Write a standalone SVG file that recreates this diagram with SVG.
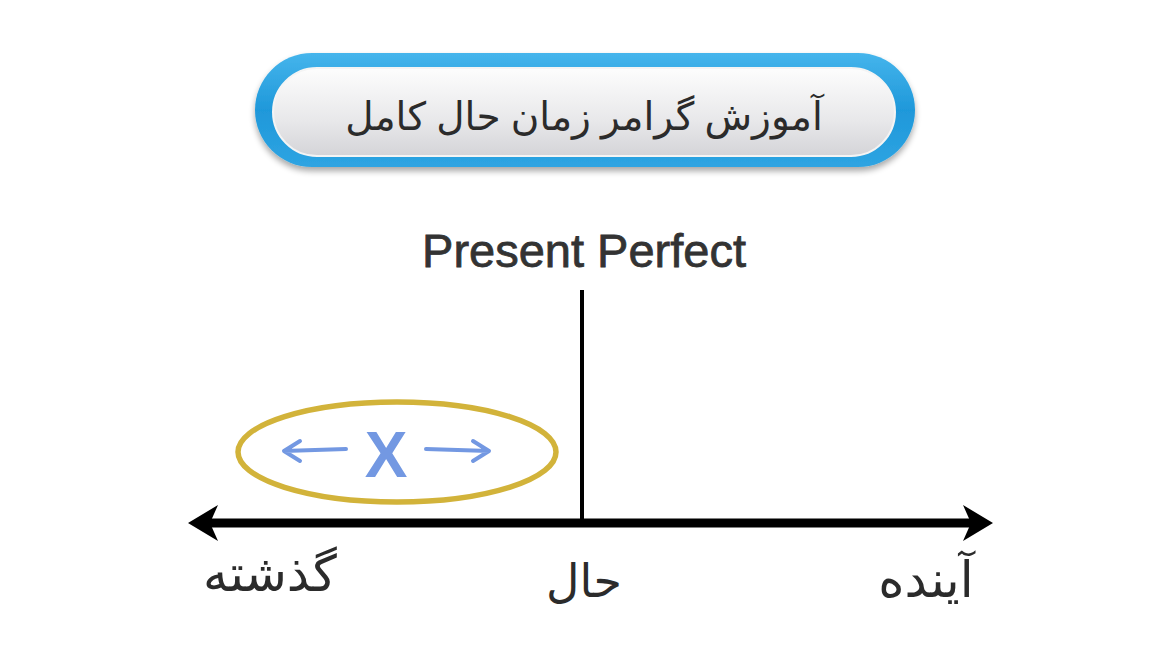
<svg xmlns="http://www.w3.org/2000/svg" width="1170" height="662" viewBox="0 0 1170 662">
<style>
.fa{font-family:"Noto Sans","DejaVu Sans",sans-serif;fill:#2b2b2b;text-anchor:middle;}
.en{font-family:"Liberation Sans",Arial,sans-serif;fill:#333;text-anchor:middle;stroke:#333;stroke-width:0.8;}
.blue{stroke:#7398E2;stroke-width:4;fill:none;stroke-linecap:round;stroke-linejoin:round;}
</style>
<defs>
<linearGradient id="gb" x1="0" y1="0" x2="0" y2="1">
<stop offset="0" stop-color="#45b5ec"/><stop offset="0.5" stop-color="#1f98da"/><stop offset="1" stop-color="#2ea4e2"/>
</linearGradient>
<linearGradient id="gg" x1="0" y1="0" x2="0" y2="1">
<stop offset="0" stop-color="#fdfdfd"/><stop offset="0.6" stop-color="#e8e8ea"/><stop offset="1" stop-color="#d4d4d8"/>
</linearGradient>
<filter id="sh" x="-10%" y="-20%" width="120%" height="150%"><feGaussianBlur in="SourceAlpha" stdDeviation="3"/><feOffset dy="4"/><feComponentTransfer><feFuncA type="linear" slope="0.35"/></feComponentTransfer><feMerge><feMergeNode/><feMergeNode in="SourceGraphic"/></feMerge></filter>
</defs>
<rect width="1170" height="662" fill="#fff"/>
<g id="title">
<rect x="255" y="53" width="660" height="114" rx="57" fill="url(#gb)" filter="url(#sh)"/>
<rect x="273" y="68" width="622" height="88" rx="44" fill="url(#gg)" stroke="#f4f4f4" stroke-width="2"/>
<text class="fa" x="584" y="130" font-size="39">آموزش گرامر زمان حال کامل</text>
</g>
<g id="heading"><text class="en" x="584" y="267" font-size="47">Present Perfect</text></g>
<g id="connectors">
<line x1="582" y1="290" x2="582" y2="522" stroke="#000" stroke-width="4"/>
<line x1="205" y1="523" x2="976" y2="523" stroke="#000" stroke-width="9"/>
<path d="M188 523 L218 505 L210 523 L218 541 Z" fill="#000"/>
<path d="M993 523 L963 505 L971 523 L963 541 Z" fill="#000"/>
</g>
<g id="event">
<ellipse cx="397" cy="452" rx="159" ry="50" fill="#fff" stroke="#D2B33A" stroke-width="5.5"/>
<text x="386" y="477" font-family="Liberation Sans,Arial,sans-serif" font-weight="bold" font-size="64" fill="#7398E2" text-anchor="middle">X</text>
<path class="blue" d="M346 449 L284 451 M300 441 L284 451 L300 461"/>
<path class="blue" d="M426 449 L489 451 M473 441 L489 451 L473 461"/>
</g>
<g id="labels">
<text class="fa" x="270" y="591" font-size="50">گذشته</text>
<text class="fa" x="584" y="597" font-size="46">حال</text>
<text class="fa" x="926" y="597" font-size="50">آینده</text>
</g>
</svg>
